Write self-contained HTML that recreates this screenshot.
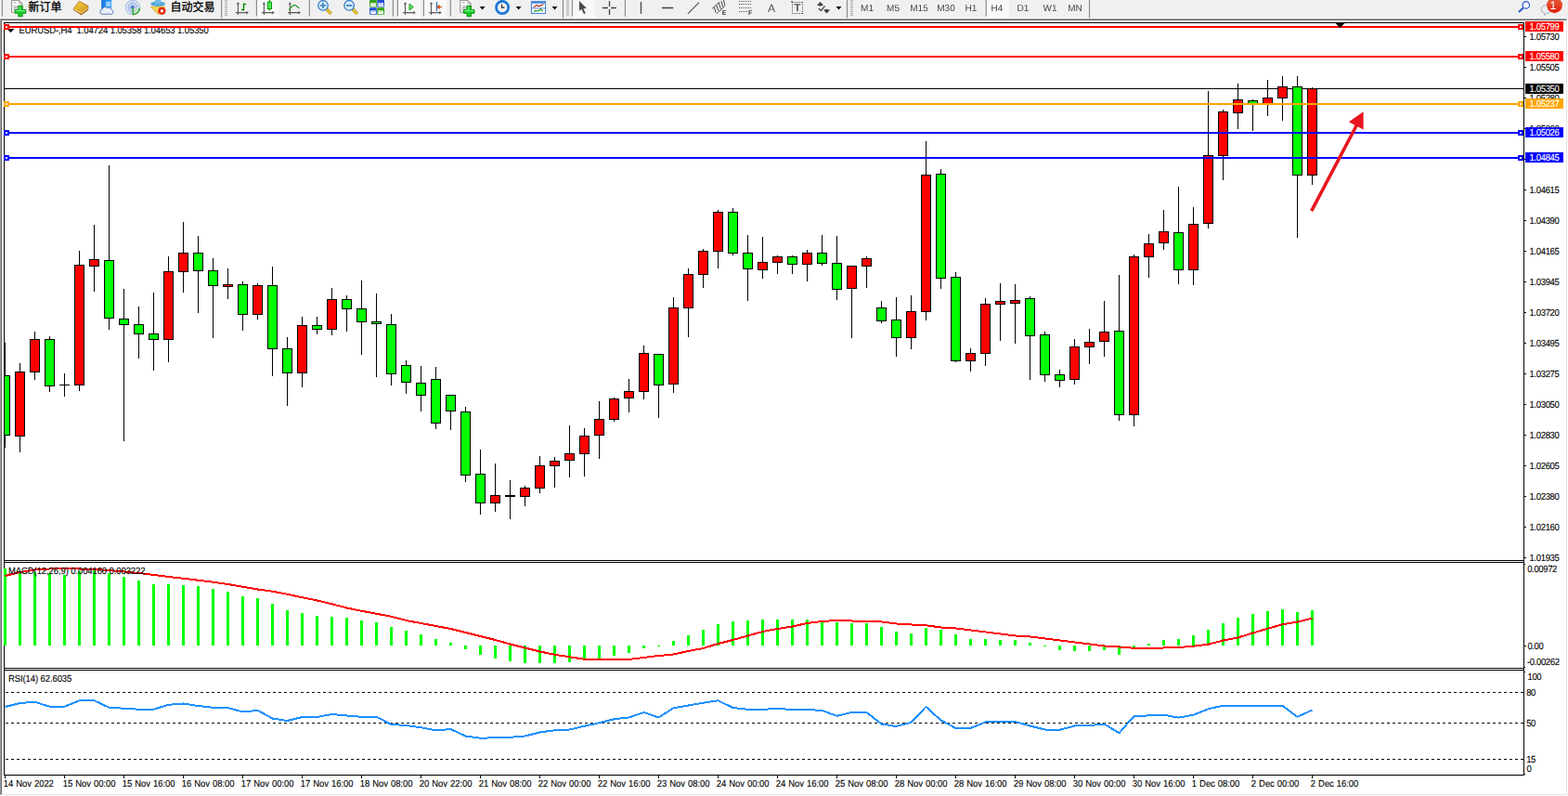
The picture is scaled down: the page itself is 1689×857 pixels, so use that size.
<!DOCTYPE html>
<html><head><meta charset="utf-8"><title>EURUSD-,H4</title>
<style>
html,body{margin:0;padding:0;background:#fff;}
body{width:1689px;height:857px;overflow:hidden;position:relative;font-family:"Liberation Sans",sans-serif;}
svg{position:absolute;left:0;top:0;}
.t{position:absolute;white-space:nowrap;color:#000;font-family:"Liberation Sans",sans-serif;}
.t{text-rendering:geometricPrecision;transform:scaleY(1.09);-webkit-text-stroke:0.1px currentColor;}
.tt{transform:none;will-change:transform;-webkit-text-stroke:0;}
.tag{position:absolute;left:1643px;width:41px;height:11px;}
.ax{letter-spacing:-0.36px;}
.tm{letter-spacing:-0.1px;word-spacing:0.6px;}
.lb{letter-spacing:-0.1px;}
</style></head><body>
<svg width="1689" height="857" viewBox="0 0 1689 857">
<rect x="0" y="0" width="1689" height="857" fill="#fff"/>
<rect x="0" y="0" width="1689" height="19" fill="#f0f0f0"/>
<rect x="0" y="19" width="1688" height="1" fill="#f8f8f8"/>
<rect x="0" y="20" width="1688" height="1" fill="#a0a0a0"/>
<rect x="0" y="20" width="1" height="836" fill="#a0a0a0"/>
<rect x="1" y="21" width="1686" height="1" fill="#696969"/>
<rect x="1" y="21" width="1" height="834" fill="#696969"/>
<rect x="1687" y="21" width="1" height="835" fill="#e3e3e3"/>
<rect x="1" y="855" width="1687" height="1" fill="#e3e3e3"/>
<rect x="1688" y="20" width="1" height="837" fill="#fff"/>
<rect x="0" y="856" width="1689" height="1" fill="#fff"/>
<rect x="4" y="24" width="1638" height="1" fill="#000"/>
<rect x="4" y="24" width="1" height="811" fill="#000"/>
<rect x="1641" y="24" width="1" height="811" fill="#000"/>
<rect x="4" y="603" width="1638" height="1" fill="#000"/>
<rect x="4" y="605" width="1638" height="1" fill="#000"/>
<rect x="4" y="719" width="1638" height="1" fill="#000"/>
<rect x="4" y="721" width="1638" height="1" fill="#000"/>
<rect x="4" y="834" width="1638" height="1" fill="#000"/>
<rect x="1642" y="39" width="2" height="1" fill="#000"/>
<rect x="1642" y="72" width="2" height="1" fill="#000"/>
<rect x="1642" y="105" width="2" height="1" fill="#000"/>
<rect x="1642" y="138" width="2" height="1" fill="#000"/>
<rect x="1642" y="171" width="2" height="1" fill="#000"/>
<rect x="1642" y="204" width="2" height="1" fill="#000"/>
<rect x="1642" y="237" width="2" height="1" fill="#000"/>
<rect x="1642" y="270" width="2" height="1" fill="#000"/>
<rect x="1642" y="303" width="2" height="1" fill="#000"/>
<rect x="1642" y="336" width="2" height="1" fill="#000"/>
<rect x="1642" y="369" width="2" height="1" fill="#000"/>
<rect x="1642" y="402" width="2" height="1" fill="#000"/>
<rect x="1642" y="435" width="2" height="1" fill="#000"/>
<rect x="1642" y="468" width="2" height="1" fill="#000"/>
<rect x="1642" y="501" width="2" height="1" fill="#000"/>
<rect x="1642" y="534" width="2" height="1" fill="#000"/>
<rect x="1642" y="567" width="2" height="1" fill="#000"/>
<rect x="1642" y="600" width="2" height="1" fill="#000"/>
<rect x="1642" y="607" width="1" height="1" fill="#000"/>
<rect x="1642" y="695" width="2" height="1" fill="#000"/>
<rect x="1642" y="718" width="1" height="1" fill="#000"/>
<rect x="1642" y="723" width="1" height="1" fill="#000"/>
<rect x="1642" y="833" width="1" height="1" fill="#000"/>
<clipPath id="cp"><rect x="5" y="25" width="1636" height="578"/></clipPath><g clip-path="url(#cp)">
<rect x="5" y="95" width="1636" height="1" fill="#000"/>
<rect x="5" y="369" width="1" height="113" fill="#000"/>
<rect x="0.5" y="404.5" width="10" height="64" fill="#00ff00" stroke="#000"/>
<rect x="21" y="391" width="1" height="96" fill="#000"/>
<rect x="16.5" y="400.5" width="10" height="69" fill="#ff0000" stroke="#000"/>
<rect x="37" y="357" width="1" height="52" fill="#000"/>
<rect x="32.5" y="365.5" width="10" height="35" fill="#ff0000" stroke="#000"/>
<rect x="53" y="362" width="1" height="60" fill="#000"/>
<rect x="48.5" y="365.5" width="10" height="50" fill="#00ff00" stroke="#000"/>
<rect x="69" y="402" width="1" height="25" fill="#000"/>
<rect x="64" y="414" width="11" height="1" fill="#000"/>
<rect x="85" y="270" width="1" height="151" fill="#000"/>
<rect x="80.5" y="285.5" width="10" height="129" fill="#ff0000" stroke="#000"/>
<rect x="101" y="242" width="1" height="72" fill="#000"/>
<rect x="96.5" y="279.5" width="10" height="7" fill="#ff0000" stroke="#000"/>
<rect x="117" y="178" width="1" height="177" fill="#000"/>
<rect x="112.5" y="280.5" width="10" height="62" fill="#00ff00" stroke="#000"/>
<rect x="133" y="311" width="1" height="164" fill="#000"/>
<rect x="128.5" y="343.5" width="10" height="6" fill="#00ff00" stroke="#000"/>
<rect x="149" y="330" width="1" height="56" fill="#000"/>
<rect x="144.5" y="349.5" width="10" height="10" fill="#00ff00" stroke="#000"/>
<rect x="165" y="315" width="1" height="84" fill="#000"/>
<rect x="160.5" y="359.5" width="10" height="6" fill="#00ff00" stroke="#000"/>
<rect x="181" y="276" width="1" height="114" fill="#000"/>
<rect x="176.5" y="292.5" width="10" height="73" fill="#ff0000" stroke="#000"/>
<rect x="197" y="239" width="1" height="76" fill="#000"/>
<rect x="192.5" y="272.5" width="10" height="20" fill="#ff0000" stroke="#000"/>
<rect x="213" y="254" width="1" height="83" fill="#000"/>
<rect x="208.5" y="272.5" width="10" height="19" fill="#00ff00" stroke="#000"/>
<rect x="229" y="278" width="1" height="86" fill="#000"/>
<rect x="224.5" y="291.5" width="10" height="16" fill="#00ff00" stroke="#000"/>
<rect x="245" y="289" width="1" height="33" fill="#000"/>
<rect x="240.5" y="306.5" width="10" height="2" fill="#ff0000" stroke="#000"/>
<rect x="261" y="303" width="1" height="53" fill="#000"/>
<rect x="256.5" y="306.5" width="10" height="32" fill="#00ff00" stroke="#000"/>
<rect x="277" y="305" width="1" height="39" fill="#000"/>
<rect x="272.5" y="307.5" width="10" height="31" fill="#ff0000" stroke="#000"/>
<rect x="293" y="287" width="1" height="118" fill="#000"/>
<rect x="288.5" y="307.5" width="10" height="68" fill="#00ff00" stroke="#000"/>
<rect x="309" y="363" width="1" height="74" fill="#000"/>
<rect x="304.5" y="375.5" width="10" height="26" fill="#00ff00" stroke="#000"/>
<rect x="325" y="341" width="1" height="76" fill="#000"/>
<rect x="320.5" y="350.5" width="10" height="51" fill="#ff0000" stroke="#000"/>
<rect x="341" y="341" width="1" height="19" fill="#000"/>
<rect x="336.5" y="350.5" width="10" height="4" fill="#00ff00" stroke="#000"/>
<rect x="357" y="310" width="1" height="51" fill="#000"/>
<rect x="352.5" y="322.5" width="10" height="32" fill="#ff0000" stroke="#000"/>
<rect x="373" y="318" width="1" height="39" fill="#000"/>
<rect x="368.5" y="322.5" width="10" height="10" fill="#00ff00" stroke="#000"/>
<rect x="389" y="302" width="1" height="80" fill="#000"/>
<rect x="384.5" y="332.5" width="10" height="14" fill="#00ff00" stroke="#000"/>
<rect x="405" y="316" width="1" height="90" fill="#000"/>
<rect x="400.5" y="346.5" width="10" height="2" fill="#00ff00" stroke="#000"/>
<rect x="421" y="338" width="1" height="77" fill="#000"/>
<rect x="416.5" y="349.5" width="10" height="53" fill="#00ff00" stroke="#000"/>
<rect x="437" y="388" width="1" height="36" fill="#000"/>
<rect x="432.5" y="393.5" width="10" height="18" fill="#00ff00" stroke="#000"/>
<rect x="453" y="394" width="1" height="49" fill="#000"/>
<rect x="448.5" y="412.5" width="10" height="13" fill="#00ff00" stroke="#000"/>
<rect x="469" y="395" width="1" height="67" fill="#000"/>
<rect x="464.5" y="408.5" width="10" height="47" fill="#00ff00" stroke="#000"/>
<rect x="485" y="425" width="1" height="38" fill="#000"/>
<rect x="480.5" y="425.5" width="10" height="17" fill="#00ff00" stroke="#000"/>
<rect x="501" y="438" width="1" height="81" fill="#000"/>
<rect x="496.5" y="443.5" width="10" height="68" fill="#00ff00" stroke="#000"/>
<rect x="517" y="484" width="1" height="70" fill="#000"/>
<rect x="512.5" y="510.5" width="10" height="31" fill="#00ff00" stroke="#000"/>
<rect x="533" y="499" width="1" height="52" fill="#000"/>
<rect x="528.5" y="533.5" width="10" height="8" fill="#ff0000" stroke="#000"/>
<rect x="549" y="517" width="1" height="42" fill="#000"/>
<rect x="544" y="533" width="11" height="2" fill="#000"/>
<rect x="565" y="523" width="1" height="22" fill="#000"/>
<rect x="560.5" y="525.5" width="10" height="9" fill="#ff0000" stroke="#000"/>
<rect x="581" y="491" width="1" height="40" fill="#000"/>
<rect x="576.5" y="501.5" width="10" height="24" fill="#ff0000" stroke="#000"/>
<rect x="597" y="492" width="1" height="33" fill="#000"/>
<rect x="592.5" y="496.5" width="10" height="5" fill="#ff0000" stroke="#000"/>
<rect x="613" y="458" width="1" height="56" fill="#000"/>
<rect x="608.5" y="488.5" width="10" height="7" fill="#ff0000" stroke="#000"/>
<rect x="629" y="461" width="1" height="52" fill="#000"/>
<rect x="624.5" y="469.5" width="10" height="19" fill="#ff0000" stroke="#000"/>
<rect x="645" y="432" width="1" height="62" fill="#000"/>
<rect x="640.5" y="451.5" width="10" height="17" fill="#ff0000" stroke="#000"/>
<rect x="661" y="428" width="1" height="26" fill="#000"/>
<rect x="656.5" y="429.5" width="10" height="22" fill="#ff0000" stroke="#000"/>
<rect x="677" y="408" width="1" height="36" fill="#000"/>
<rect x="672.5" y="421.5" width="10" height="7" fill="#ff0000" stroke="#000"/>
<rect x="693" y="372" width="1" height="58" fill="#000"/>
<rect x="688.5" y="380.5" width="10" height="41" fill="#ff0000" stroke="#000"/>
<rect x="709" y="381" width="1" height="69" fill="#000"/>
<rect x="704.5" y="381.5" width="10" height="33" fill="#00ff00" stroke="#000"/>
<rect x="725" y="320" width="1" height="103" fill="#000"/>
<rect x="720.5" y="331.5" width="10" height="82" fill="#ff0000" stroke="#000"/>
<rect x="741" y="289" width="1" height="74" fill="#000"/>
<rect x="736.5" y="295.5" width="10" height="36" fill="#ff0000" stroke="#000"/>
<rect x="757" y="268" width="1" height="42" fill="#000"/>
<rect x="752.5" y="270.5" width="10" height="25" fill="#ff0000" stroke="#000"/>
<rect x="773" y="226" width="1" height="63" fill="#000"/>
<rect x="768.5" y="228.5" width="10" height="42" fill="#ff0000" stroke="#000"/>
<rect x="789" y="224" width="1" height="51" fill="#000"/>
<rect x="784.5" y="228.5" width="10" height="44" fill="#00ff00" stroke="#000"/>
<rect x="805" y="253" width="1" height="71" fill="#000"/>
<rect x="800.5" y="272.5" width="10" height="17" fill="#00ff00" stroke="#000"/>
<rect x="821" y="255" width="1" height="45" fill="#000"/>
<rect x="816.5" y="282.5" width="10" height="8" fill="#ff0000" stroke="#000"/>
<rect x="837" y="275" width="1" height="20" fill="#000"/>
<rect x="832.5" y="276.5" width="10" height="6" fill="#ff0000" stroke="#000"/>
<rect x="853" y="275" width="1" height="20" fill="#000"/>
<rect x="848.5" y="276.5" width="10" height="8" fill="#00ff00" stroke="#000"/>
<rect x="869" y="269" width="1" height="34" fill="#000"/>
<rect x="864.5" y="272.5" width="10" height="12" fill="#ff0000" stroke="#000"/>
<rect x="885" y="253" width="1" height="33" fill="#000"/>
<rect x="880.5" y="272.5" width="10" height="11" fill="#00ff00" stroke="#000"/>
<rect x="901" y="254" width="1" height="69" fill="#000"/>
<rect x="896.5" y="283.5" width="10" height="28" fill="#00ff00" stroke="#000"/>
<rect x="917" y="286" width="1" height="78" fill="#000"/>
<rect x="912.5" y="286.5" width="10" height="24" fill="#ff0000" stroke="#000"/>
<rect x="933" y="276" width="1" height="34" fill="#000"/>
<rect x="928.5" y="278.5" width="10" height="8" fill="#ff0000" stroke="#000"/>
<rect x="949" y="324" width="1" height="24" fill="#000"/>
<rect x="944.5" y="331.5" width="10" height="14" fill="#00ff00" stroke="#000"/>
<rect x="965" y="320" width="1" height="64" fill="#000"/>
<rect x="960.5" y="344.5" width="10" height="19" fill="#00ff00" stroke="#000"/>
<rect x="981" y="318" width="1" height="58" fill="#000"/>
<rect x="976.5" y="335.5" width="10" height="28" fill="#ff0000" stroke="#000"/>
<rect x="997" y="152" width="1" height="193" fill="#000"/>
<rect x="992.5" y="188.5" width="10" height="147" fill="#ff0000" stroke="#000"/>
<rect x="1013" y="182" width="1" height="129" fill="#000"/>
<rect x="1008.5" y="187.5" width="10" height="112" fill="#00ff00" stroke="#000"/>
<rect x="1029" y="293" width="1" height="97" fill="#000"/>
<rect x="1024.5" y="298.5" width="10" height="90" fill="#00ff00" stroke="#000"/>
<rect x="1045" y="375" width="1" height="25" fill="#000"/>
<rect x="1040.5" y="380.5" width="10" height="8" fill="#ff0000" stroke="#000"/>
<rect x="1061" y="321" width="1" height="73" fill="#000"/>
<rect x="1056.5" y="327.5" width="10" height="53" fill="#ff0000" stroke="#000"/>
<rect x="1077" y="305" width="1" height="62" fill="#000"/>
<rect x="1072.5" y="324.5" width="10" height="3" fill="#ff0000" stroke="#000"/>
<rect x="1093" y="306" width="1" height="64" fill="#000"/>
<rect x="1088.5" y="323.5" width="10" height="3" fill="#ff0000" stroke="#000"/>
<rect x="1109" y="319" width="1" height="90" fill="#000"/>
<rect x="1104.5" y="321.5" width="10" height="40" fill="#00ff00" stroke="#000"/>
<rect x="1125" y="357" width="1" height="54" fill="#000"/>
<rect x="1120.5" y="360.5" width="10" height="43" fill="#00ff00" stroke="#000"/>
<rect x="1141" y="398" width="1" height="19" fill="#000"/>
<rect x="1136.5" y="403.5" width="10" height="6" fill="#00ff00" stroke="#000"/>
<rect x="1157" y="365" width="1" height="49" fill="#000"/>
<rect x="1152.5" y="373.5" width="10" height="35" fill="#ff0000" stroke="#000"/>
<rect x="1173" y="354" width="1" height="38" fill="#000"/>
<rect x="1168.5" y="368.5" width="10" height="5" fill="#ff0000" stroke="#000"/>
<rect x="1189" y="324" width="1" height="60" fill="#000"/>
<rect x="1184.5" y="357.5" width="10" height="10" fill="#ff0000" stroke="#000"/>
<rect x="1205" y="296" width="1" height="157" fill="#000"/>
<rect x="1200.5" y="356.5" width="10" height="90" fill="#00ff00" stroke="#000"/>
<rect x="1221" y="274" width="1" height="185" fill="#000"/>
<rect x="1216.5" y="276.5" width="10" height="170" fill="#ff0000" stroke="#000"/>
<rect x="1237" y="252" width="1" height="47" fill="#000"/>
<rect x="1232.5" y="262.5" width="10" height="14" fill="#ff0000" stroke="#000"/>
<rect x="1253" y="226" width="1" height="43" fill="#000"/>
<rect x="1248.5" y="249.5" width="10" height="12" fill="#ff0000" stroke="#000"/>
<rect x="1269" y="201" width="1" height="105" fill="#000"/>
<rect x="1264.5" y="250.5" width="10" height="40" fill="#00ff00" stroke="#000"/>
<rect x="1285" y="223" width="1" height="84" fill="#000"/>
<rect x="1280.5" y="241.5" width="10" height="49" fill="#ff0000" stroke="#000"/>
<rect x="1301" y="98" width="1" height="148" fill="#000"/>
<rect x="1296.5" y="167.5" width="10" height="73" fill="#ff0000" stroke="#000"/>
<rect x="1317" y="118" width="1" height="76" fill="#000"/>
<rect x="1312.5" y="120.5" width="10" height="47" fill="#ff0000" stroke="#000"/>
<rect x="1333" y="90" width="1" height="49" fill="#000"/>
<rect x="1328.5" y="107.5" width="10" height="14" fill="#ff0000" stroke="#000"/>
<rect x="1349" y="107" width="1" height="34" fill="#000"/>
<rect x="1344.5" y="108.5" width="10" height="3" fill="#00ff00" stroke="#000"/>
<rect x="1365" y="86" width="1" height="39" fill="#000"/>
<rect x="1360.5" y="105.5" width="10" height="6" fill="#ff0000" stroke="#000"/>
<rect x="1381" y="82" width="1" height="48" fill="#000"/>
<rect x="1376.5" y="93.5" width="10" height="12" fill="#ff0000" stroke="#000"/>
<rect x="1397" y="82" width="1" height="174" fill="#000"/>
<rect x="1392.5" y="93.5" width="10" height="95" fill="#00ff00" stroke="#000"/>
<rect x="1413" y="94" width="1" height="105" fill="#000"/>
<rect x="1408.5" y="95.5" width="10" height="93" fill="#ff0000" stroke="#000"/>
</g>
<rect x="8" y="31" width="7" height="1" fill="#000"/>
<rect x="9" y="32" width="5" height="1" fill="#000"/>
<rect x="10" y="33" width="3" height="1" fill="#000"/>
<rect x="11" y="34" width="1" height="1" fill="#000"/>
<rect x="5" y="28" width="1636" height="2" fill="#ff0000"/>
<rect x="5" y="27.0" width="4" height="4" fill="#fff" stroke="#ff0000" stroke-width="2"/>
<rect x="1636" y="27.0" width="4" height="4" fill="#fff" stroke="#ff0000" stroke-width="2"/>
<rect x="5" y="60" width="1636" height="2" fill="#ff0000"/>
<rect x="5" y="59.0" width="4" height="4" fill="#fff" stroke="#ff0000" stroke-width="2"/>
<rect x="1636" y="59.0" width="4" height="4" fill="#fff" stroke="#ff0000" stroke-width="2"/>
<rect x="5" y="111" width="1636" height="2" fill="#ffa500"/>
<rect x="5" y="110.0" width="4" height="4" fill="#fff" stroke="#ffa500" stroke-width="2"/>
<rect x="1636" y="110.0" width="4" height="4" fill="#fff" stroke="#ffa500" stroke-width="2"/>
<rect x="5" y="142" width="1636" height="2" fill="#0000ff"/>
<rect x="5" y="141.0" width="4" height="4" fill="#fff" stroke="#0000ff" stroke-width="2"/>
<rect x="1636" y="141.0" width="4" height="4" fill="#fff" stroke="#0000ff" stroke-width="2"/>
<rect x="5" y="169" width="1636" height="2" fill="#0000ff"/>
<rect x="5" y="168.0" width="4" height="4" fill="#fff" stroke="#0000ff" stroke-width="2"/>
<rect x="1636" y="168.0" width="4" height="4" fill="#fff" stroke="#0000ff" stroke-width="2"/>
<rect x="1439" y="25" width="9" height="1" fill="#000"/>
<rect x="1440" y="26" width="7" height="1" fill="#000"/>
<rect x="1441" y="27" width="5" height="1" fill="#000"/>
<rect x="1442" y="28" width="3" height="1" fill="#000"/>
<rect x="1443" y="29" width="1" height="1" fill="#000"/>
<path d="M1412.7 227.2L1461.5 134.5" stroke="#e8161e" stroke-width="3.6" fill="none"/>
<path d="M1468.6 120.3L1452.8 131.3L1468.6 139.5z" fill="#e8161e"/>
<rect x="4" y="612" width="3" height="83" fill="#00ff00"/>
<rect x="20" y="615" width="3" height="80" fill="#00ff00"/>
<rect x="36" y="616" width="3" height="79" fill="#00ff00"/>
<rect x="52" y="617" width="3" height="78" fill="#00ff00"/>
<rect x="68" y="619" width="3" height="76" fill="#00ff00"/>
<rect x="84" y="615" width="3" height="80" fill="#00ff00"/>
<rect x="100" y="614" width="3" height="81" fill="#00ff00"/>
<rect x="116" y="617" width="3" height="78" fill="#00ff00"/>
<rect x="132" y="621" width="3" height="74" fill="#00ff00"/>
<rect x="148" y="625" width="3" height="70" fill="#00ff00"/>
<rect x="164" y="629" width="3" height="66" fill="#00ff00"/>
<rect x="180" y="629" width="3" height="66" fill="#00ff00"/>
<rect x="196" y="630" width="3" height="65" fill="#00ff00"/>
<rect x="212" y="631" width="3" height="64" fill="#00ff00"/>
<rect x="228" y="634" width="3" height="61" fill="#00ff00"/>
<rect x="244" y="637" width="3" height="58" fill="#00ff00"/>
<rect x="260" y="642" width="3" height="53" fill="#00ff00"/>
<rect x="276" y="644" width="3" height="51" fill="#00ff00"/>
<rect x="292" y="650" width="3" height="45" fill="#00ff00"/>
<rect x="308" y="657" width="3" height="38" fill="#00ff00"/>
<rect x="324" y="660" width="3" height="35" fill="#00ff00"/>
<rect x="340" y="663" width="3" height="32" fill="#00ff00"/>
<rect x="356" y="664" width="3" height="31" fill="#00ff00"/>
<rect x="372" y="665" width="3" height="30" fill="#00ff00"/>
<rect x="388" y="668" width="3" height="27" fill="#00ff00"/>
<rect x="404" y="670" width="3" height="25" fill="#00ff00"/>
<rect x="420" y="675" width="3" height="20" fill="#00ff00"/>
<rect x="436" y="679" width="3" height="16" fill="#00ff00"/>
<rect x="452" y="683" width="3" height="12" fill="#00ff00"/>
<rect x="468" y="688" width="3" height="7" fill="#00ff00"/>
<rect x="484" y="692" width="3" height="3" fill="#00ff00"/>
<rect x="500" y="695" width="3" height="4" fill="#00ff00"/>
<rect x="516" y="695" width="3" height="10" fill="#00ff00"/>
<rect x="532" y="695" width="3" height="14" fill="#00ff00"/>
<rect x="548" y="695" width="3" height="17" fill="#00ff00"/>
<rect x="564" y="695" width="3" height="19" fill="#00ff00"/>
<rect x="580" y="695" width="3" height="19" fill="#00ff00"/>
<rect x="596" y="695" width="3" height="19" fill="#00ff00"/>
<rect x="612" y="695" width="3" height="18" fill="#00ff00"/>
<rect x="628" y="695" width="3" height="16" fill="#00ff00"/>
<rect x="644" y="695" width="3" height="14" fill="#00ff00"/>
<rect x="660" y="695" width="3" height="11" fill="#00ff00"/>
<rect x="676" y="695" width="3" height="8" fill="#00ff00"/>
<rect x="692" y="695" width="3" height="3" fill="#00ff00"/>
<rect x="708" y="695" width="3" height="1" fill="#00ff00"/>
<rect x="724" y="690" width="3" height="5" fill="#00ff00"/>
<rect x="740" y="684" width="3" height="11" fill="#00ff00"/>
<rect x="756" y="678" width="3" height="17" fill="#00ff00"/>
<rect x="772" y="672" width="3" height="23" fill="#00ff00"/>
<rect x="788" y="669" width="3" height="26" fill="#00ff00"/>
<rect x="804" y="668" width="3" height="27" fill="#00ff00"/>
<rect x="820" y="667" width="3" height="28" fill="#00ff00"/>
<rect x="836" y="667" width="3" height="28" fill="#00ff00"/>
<rect x="852" y="667" width="3" height="28" fill="#00ff00"/>
<rect x="868" y="667" width="3" height="28" fill="#00ff00"/>
<rect x="884" y="668" width="3" height="27" fill="#00ff00"/>
<rect x="900" y="670" width="3" height="25" fill="#00ff00"/>
<rect x="916" y="671" width="3" height="24" fill="#00ff00"/>
<rect x="932" y="671" width="3" height="24" fill="#00ff00"/>
<rect x="948" y="675" width="3" height="20" fill="#00ff00"/>
<rect x="964" y="680" width="3" height="15" fill="#00ff00"/>
<rect x="980" y="682" width="3" height="13" fill="#00ff00"/>
<rect x="996" y="676" width="3" height="19" fill="#00ff00"/>
<rect x="1012" y="678" width="3" height="17" fill="#00ff00"/>
<rect x="1028" y="683" width="3" height="12" fill="#00ff00"/>
<rect x="1044" y="688" width="3" height="7" fill="#00ff00"/>
<rect x="1060" y="688" width="3" height="7" fill="#00ff00"/>
<rect x="1076" y="689" width="3" height="6" fill="#00ff00"/>
<rect x="1092" y="689" width="3" height="6" fill="#00ff00"/>
<rect x="1108" y="692" width="3" height="3" fill="#00ff00"/>
<rect x="1124" y="695" width="3" height="1" fill="#00ff00"/>
<rect x="1140" y="695" width="3" height="5" fill="#00ff00"/>
<rect x="1156" y="695" width="3" height="6" fill="#00ff00"/>
<rect x="1172" y="695" width="3" height="6" fill="#00ff00"/>
<rect x="1188" y="695" width="3" height="5" fill="#00ff00"/>
<rect x="1204" y="695" width="3" height="10" fill="#00ff00"/>
<rect x="1220" y="695" width="3" height="3" fill="#00ff00"/>
<rect x="1236" y="693" width="3" height="2" fill="#00ff00"/>
<rect x="1252" y="689" width="3" height="6" fill="#00ff00"/>
<rect x="1268" y="688" width="3" height="7" fill="#00ff00"/>
<rect x="1284" y="684" width="3" height="11" fill="#00ff00"/>
<rect x="1300" y="678" width="3" height="17" fill="#00ff00"/>
<rect x="1316" y="671" width="3" height="24" fill="#00ff00"/>
<rect x="1332" y="665" width="3" height="30" fill="#00ff00"/>
<rect x="1348" y="661" width="3" height="34" fill="#00ff00"/>
<rect x="1364" y="658" width="3" height="37" fill="#00ff00"/>
<rect x="1380" y="656" width="3" height="39" fill="#00ff00"/>
<rect x="1396" y="659" width="3" height="36" fill="#00ff00"/>
<rect x="1412" y="657" width="3" height="38" fill="#00ff00"/>
<polyline points="5.5,620 21.5,616 37.5,613.5 53.5,612.5 69.5,612.25 85.5,612.5 101.5,613 117.5,614 133.5,615.5 149.5,617 165.5,619 181.5,621 197.5,622.75 213.5,624.75 229.5,626.75 245.5,629 261.5,631.75 277.5,634.5 293.5,636.75 309.5,639.75 325.5,643.25 341.5,646.5 357.5,650.25 373.5,654.5 389.5,657.75 405.5,660.75 421.5,663.75 437.5,668 453.5,671 469.5,674 485.5,677 501.5,681 517.5,685 533.5,689 549.5,693.5 565.5,697.5 581.5,701.5 597.5,704.75 613.5,707.25 629.5,709.75 645.5,710 661.5,710 677.5,710 693.5,708 709.5,706 725.5,704.5 741.5,701 757.5,698 773.5,693 789.5,689 805.5,684.5 821.5,680 837.5,677 853.5,674.5 869.5,671 885.5,669 901.5,668 917.5,668.5 933.5,669 949.5,669.5 965.5,671.5 981.5,672.5 997.5,673.25 1013.5,675.5 1029.5,676.5 1045.5,678.5 1061.5,680.5 1077.5,682.5 1093.5,684.5 1109.5,685.5 1125.5,687.5 1141.5,689.5 1157.5,691.5 1173.5,693.5 1189.5,695.5 1205.5,696.5 1221.5,697.75 1237.5,698 1253.5,697.5 1269.5,697 1285.5,695.75 1301.5,693.75 1317.5,689.5 1333.5,686.5 1349.5,681.5 1365.5,676.75 1381.5,672.25 1397.5,669.5 1413.5,665.75" fill="none" stroke="#ff0000" stroke-width="2" stroke-linejoin="round" shape-rendering="crispEdges" clip-path="url(#cpm)"/>
<clipPath id="cpm"><rect x="5" y="606" width="1636" height="228"/></clipPath>
<path d="M6 745.5H1641" stroke="#000" stroke-width="1" stroke-dasharray="3 3" fill="none" shape-rendering="crispEdges"/>
<path d="M6 778.5H1641" stroke="#000" stroke-width="1" stroke-dasharray="3 3" fill="none" shape-rendering="crispEdges"/>
<path d="M6 817.5H1641" stroke="#000" stroke-width="1" stroke-dasharray="3 3" fill="none" shape-rendering="crispEdges"/>
<polyline points="5.5,761 21.5,757 37.5,755.75 53.5,760.75 69.5,760.75 85.5,754.25 101.5,754.25 117.5,761.75 133.5,762.75 149.5,763.75 165.5,763.75 181.5,758.75 197.5,757.5 213.5,760 229.5,761.75 245.5,762 261.5,766.5 277.5,764.75 293.5,773.5 309.5,776 325.5,772 341.5,772 357.5,769 373.5,770.5 389.5,771.75 405.5,771.75 421.5,780 437.5,781 453.5,783.25 469.5,786.5 485.5,785 501.5,792.5 517.5,794.75 533.5,794.25 549.5,793.75 565.5,792.5 581.5,788.5 597.5,786.25 613.5,785.5 629.5,781.75 645.5,778.25 661.5,774.25 677.5,772.5 693.5,767 709.5,772.5 725.5,762.25 741.5,759.5 757.5,756.75 773.5,754.25 789.5,762 805.5,763.75 821.5,763.75 837.5,763 853.5,764 869.5,764 885.5,765 901.5,770.75 917.5,767 933.5,767 949.5,779.5 965.5,782 981.5,777.75 997.5,761 1013.5,775.5 1029.5,784 1045.5,784 1061.5,777.5 1077.5,777 1093.5,777 1109.5,781.5 1125.5,785.5 1141.5,785.75 1157.5,781.5 1173.5,781 1189.5,779.5 1205.5,789.25 1221.5,771 1237.5,770.4 1253.5,769.75 1269.5,772.6 1285.5,769.75 1301.5,763.25 1317.5,759.75 1333.5,759.75 1349.5,759.75 1365.5,759.75 1381.5,759.75 1397.5,771.75 1413.5,764.5" fill="none" stroke="#1e90ff" stroke-width="2" stroke-linejoin="round" shape-rendering="crispEdges" clip-path="url(#cpm)"/>
<rect x="5" y="835" width="1" height="3" fill="#000"/>
<rect x="69" y="835" width="1" height="3" fill="#000"/>
<rect x="133" y="835" width="1" height="3" fill="#000"/>
<rect x="197" y="835" width="1" height="3" fill="#000"/>
<rect x="261" y="835" width="1" height="3" fill="#000"/>
<rect x="325" y="835" width="1" height="3" fill="#000"/>
<rect x="389" y="835" width="1" height="3" fill="#000"/>
<rect x="453" y="835" width="1" height="3" fill="#000"/>
<rect x="517" y="835" width="1" height="3" fill="#000"/>
<rect x="581" y="835" width="1" height="3" fill="#000"/>
<rect x="645" y="835" width="1" height="3" fill="#000"/>
<rect x="709" y="835" width="1" height="3" fill="#000"/>
<rect x="773" y="835" width="1" height="3" fill="#000"/>
<rect x="837" y="835" width="1" height="3" fill="#000"/>
<rect x="901" y="835" width="1" height="3" fill="#000"/>
<rect x="965" y="835" width="1" height="3" fill="#000"/>
<rect x="1029" y="835" width="1" height="3" fill="#000"/>
<rect x="1093" y="835" width="1" height="3" fill="#000"/>
<rect x="1157" y="835" width="1" height="3" fill="#000"/>
<rect x="1221" y="835" width="1" height="3" fill="#000"/>
<rect x="1285" y="835" width="1" height="3" fill="#000"/>
<rect x="1349" y="835" width="1" height="3" fill="#000"/>
<rect x="1413" y="835" width="1" height="3" fill="#000"/>
<rect x="1.8" y="0" width="1.2" height="17.6" fill="#8e8e8e"/>
<path d="M12.6 0.4h8l3.2 3.2v9.6h-11.2z" fill="#fdfdfd" stroke="#8a8a8a" stroke-width="1"/>
<path d="M20.6 0.4v3.2h3.2" fill="none" stroke="#8a8a8a" stroke-width="0.8"/>
<path d="M14.5 2.8h3M14.5 6.8h6.5M14.5 8.6h6.5M14.5 10.4h3" stroke="#9a9a9a" stroke-width="1" fill="none"/>
<path d="M16.2 10.4h3.6v-4.2h4.4v4.2h3.6v3.9h-3.6v3.5h-4.4v-3.5h-3.6z" fill="#18cc2a" stroke="#0a8a14" stroke-width="0.9"/>
<path d="M17.2 11.6h9.6M21.3 7.4v5" stroke="#7dff8a" stroke-width="1.1" fill="none" opacity="0.85"/>
<text x="30.6" y="11.5" font-size="12" fill="#000" stroke="#000" stroke-width="0.3" font-family="&quot;Liberation Sans&quot;, &quot;Noto Sans CJK SC&quot;, sans-serif">新订单</text>
<linearGradient id="gy" x1="0" y1="0" x2="1" y2="1"><stop offset="0" stop-color="#f7d648"/><stop offset="1" stop-color="#c98a14"/></linearGradient>
<path d="M79 9.8L85.3 1.2L95 6.5L94.6 10.8L87.6 15.8z" fill="url(#gy)" stroke="#a8700f" stroke-width="0.8" stroke-linejoin="round"/><path d="M79.4 10.6L87.6 15.4L94.4 10.4" fill="none" stroke="#9c6410" stroke-width="1.1"/>
<path d="M80.2 10.4L87.6 14.2L94.2 9" fill="none" stroke="#f6e3a0" stroke-width="0.9"/>
<path d="M109.3 0h10.8v9.6h-10.8z" fill="#1f8cec"/><path d="M113.2 1h6.9v8.6h-6.9z" fill="#56b0ff"/><path d="M109.3 0h3.9v9.6h-3.9z" fill="#1a7ee0"/><path d="M114.6 3.2h4.2M114.6 5.4h4.2" stroke="#e8f4ff" stroke-width="1"/>
<path d="M109.8 15.3a2.6 2.6 0 0 1 0.2-5.1a3.3 3.3 0 0 1 5.6-1.6a3 3 0 0 1 4.4 1.9a2.5 2.5 0 0 1 0.4 4.8z" fill="#e9eef8" stroke="#5674b2" stroke-width="0.9"/><path d="M109.4 14.4h11.6" stroke="#c8d4ea" stroke-width="1"/>
<circle cx="142.9" cy="8" r="7.6" fill="#e4ecf4" stroke="#a9bde8" stroke-width="1.1"/><circle cx="142.9" cy="8" r="4.9" fill="none" stroke="#8fa8e4" stroke-width="1.1"/><circle cx="142.9" cy="8" r="2.7" fill="none" stroke="#7f9ce2" stroke-width="0.9"/><circle cx="142.9" cy="7.8" r="1.6" fill="#2a5ed8"/>
<path d="M143.3 8.6V15.6A7.6 7.6 0 0 0 150.5 8.6" fill="#cfe8c8" fill-opacity="0.6" stroke="#2ea82e" stroke-width="1.5"/>
<path d="M162.2 7.1h15.4l-7.1 8.7z" fill="#f3d64e" stroke="#d0a820" stroke-width="0.7"/>
<ellipse cx="170.1" cy="4.2" rx="7.9" ry="2.7" fill="#4fa6d8"/><ellipse cx="170.2" cy="1.9" rx="3.4" ry="2.8" fill="#6cbce6"/>
<circle cx="174.4" cy="11.8" r="4.1" fill="#e22c12"/><rect x="173" y="10.4" width="2.8" height="2.8" fill="#fff"/>
<text x="183.6" y="11.5" font-size="12" fill="#000" stroke="#000" stroke-width="0.3" font-family="&quot;Liberation Sans&quot;, &quot;Noto Sans CJK SC&quot;, sans-serif">自动交易</text>
<rect x="238" y="0" width="1.2" height="19.4" fill="#8e8e8e"/>
<rect x="242.1" y="0.1" width="2.8" height="1" fill="#a6a6a6"/>
<rect x="242.1" y="2.1" width="2.8" height="1" fill="#a6a6a6"/>
<rect x="242.1" y="4.1" width="2.8" height="1" fill="#a6a6a6"/>
<rect x="242.1" y="6.1" width="2.8" height="1" fill="#a6a6a6"/>
<rect x="242.1" y="8.1" width="2.8" height="1" fill="#a6a6a6"/>
<rect x="242.1" y="10.1" width="2.8" height="1" fill="#a6a6a6"/>
<rect x="242.1" y="12.1" width="2.8" height="1" fill="#a6a6a6"/>
<rect x="242.1" y="14.1" width="2.8" height="1" fill="#a6a6a6"/>
<rect x="242.1" y="16.1" width="2.8" height="1" fill="#a6a6a6"/>
<path d="M256.4 3V16M253.9 13.6H266.9" stroke="#5c5c5c" stroke-width="1.15" fill="none"/>
<path d="M254.6 4.4L256.4 2.2L258.2 4.4zM265.5 11.8L267.9 13.6L265.5 15.4z" fill="#5c5c5c"/>
<path d="M262.5 3.4V11.5M262.5 4.5h2.6M260.1 10.5h2.4" stroke="#008c00" stroke-width="1.4" fill="none"/>
<rect x="275.8" y="0" width="1.2" height="17.6" fill="#8e8e8e"/>
<rect x="277.2" y="0" width="23.6" height="17.7" fill="#f8f8f8"/><rect x="276.2" y="17.7" width="25.6" height="1.6" fill="#fdfdfd"/>
<path d="M284.4 3V16M282.1 13.6H294.7" stroke="#5c5c5c" stroke-width="1.15" fill="none"/>
<path d="M282.6 4.4L284.4 2.2L286.2 4.4zM293.3 11.8L295.7 13.6L293.3 15.4z" fill="#5c5c5c"/>
<path d="M290.4 0V11.6" stroke="#009a00" stroke-width="1.2"/><rect x="288.3" y="2.3" width="4.2" height="7.2" fill="#4ee85e" stroke="#00a000" stroke-width="1"/>
<path d="M312.4 3V16M310.1 13.6H322.8" stroke="#5c5c5c" stroke-width="1.15" fill="none"/>
<path d="M310.6 4.4L312.4 2.2L314.2 4.4zM321.4 11.8L323.8 13.6L321.4 15.4z" fill="#5c5c5c"/>
<path d="M311.1 10.7C313.5 8.8 315 5.2 317.3 5.3C319.2 5.4 320.4 8 322.6 8.9" stroke="#279a27" stroke-width="1.3" fill="none"/>
<rect x="332.8" y="0" width="1.2" height="17.6" fill="#8e8e8e"/>
<path d="M351.7 9.7L356.6 14.9" stroke="#b08412" stroke-width="3.4" stroke-linecap="butt"/><path d="M351.9 9.9L356.4 14.7" stroke="#edcb32" stroke-width="2"/>
<circle cx="348" cy="5.9" r="5.3" fill="#d6efff" stroke="#3a7cc8" stroke-width="1.3"/>
<path d="M344.8 5.9h6.4M348 2.7v6.4" stroke="#4a8cba" stroke-width="1.9" fill="none"/>
<path d="M379.8 9.7L384.7 14.9" stroke="#b08412" stroke-width="3.4" stroke-linecap="butt"/><path d="M380 9.9L384.5 14.7" stroke="#edcb32" stroke-width="2"/>
<circle cx="376.1" cy="5.9" r="5.3" fill="#d6efff" stroke="#3a7cc8" stroke-width="1.3"/>
<path d="M372.9 5.9h6.4" stroke="#4a8cba" stroke-width="1.9" fill="none"/>
<rect x="398.1" y="0" width="7.7" height="7.5" fill="#34a414"/><rect x="399.2" y="3.2" width="5.6" height="3.6" fill="#fff"/><rect x="400.3" y="4.2" width="3.4" height="0.9" fill="#9cd88c"/>
<rect x="406.3" y="0" width="7.7" height="7.5" fill="#2452d4"/><rect x="407.4" y="3.2" width="5.6" height="3.6" fill="#fff"/><rect x="408.5" y="4.2" width="3.4" height="0.9" fill="#8aa4ee"/>
<rect x="398.1" y="8.2" width="7.7" height="7.5" fill="#2452d4"/><rect x="399.2" y="11.4" width="5.6" height="3.6" fill="#fff"/><rect x="400.3" y="12.4" width="3.4" height="0.9" fill="#8aa4ee"/>
<rect x="406.3" y="8.2" width="7.7" height="7.5" fill="#34a414"/><rect x="407.4" y="11.4" width="5.6" height="3.6" fill="#fff"/><rect x="408.5" y="12.4" width="3.4" height="0.9" fill="#9cd88c"/>
<rect x="422.8" y="0" width="1.2" height="17.6" fill="#8e8e8e"/>
<rect x="427.8" y="0" width="1.2" height="17.6" fill="#8e8e8e"/>
<rect x="429.2" y="0" width="23.8" height="17.7" fill="#f8f8f8"/><rect x="428.2" y="17.7" width="25.8" height="1.6" fill="#fdfdfd"/>
<path d="M436.5 3V16M434.1 13.6H446.7" stroke="#5c5c5c" stroke-width="1.15" fill="none"/>
<path d="M434.7 4.4L436.5 2.2L438.3 4.4zM445.3 11.8L447.7 13.6L445.3 15.4z" fill="#5c5c5c"/>
<path d="M441 4.1V11L445.3 7.5z" fill="#6ee46e" stroke="#00a000" stroke-width="0.9"/>
<rect x="455.8" y="0" width="1.2" height="17.6" fill="#8e8e8e"/>
<rect x="457" y="0" width="24" height="17.7" fill="#f8f8f8"/><rect x="456" y="17.7" width="26" height="1.6" fill="#fdfdfd"/>
<path d="M464.5 3V16M462.2 13.6H474.7" stroke="#5c5c5c" stroke-width="1.15" fill="none"/>
<path d="M462.7 4.4L464.5 2.2L466.3 4.4zM473.3 11.8L475.7 13.6L473.3 15.4z" fill="#5c5c5c"/>
<path d="M470.5 2.1V11.8" stroke="#1a6aa8" stroke-width="1.3"/><path d="M471.4 7.5H476M473.8 5.5L471.4 7.5L473.8 9.5" stroke="#d04000" stroke-width="1.2" fill="none"/>
<rect x="484.7" y="0" width="1.2" height="17.6" fill="#8e8e8e"/>
<path d="M495.8 0.4h8l3.2 3.2v9.6h-11.2z" fill="#fdfdfd" stroke="#8a8a8a" stroke-width="1"/>
<path d="M503.8 0.4v3.2h3.2" fill="none" stroke="#8a8a8a" stroke-width="0.8"/>
<path d="M497.7 2.8h3M497.7 6.8h6.5M497.7 8.6h6.5M497.7 10.4h3" stroke="#9a9a9a" stroke-width="1" fill="none"/>
<path d="M499.4 10.4h3.6v-4.2h4.4v4.2h3.6v3.9h-3.6v3.5h-4.4v-3.5h-3.6z" fill="#18cc2a" stroke="#0a8a14" stroke-width="0.9"/>
<path d="M500.4 11.6h9.6M504.5 7.4v5" stroke="#7dff8a" stroke-width="1.1" fill="none" opacity="0.85"/>
<path d="M516.7 7h5.8l-2.9 3.4z" fill="#000"/>
<rect x="539.4" y="0" width="3.4" height="1.6" fill="#1c6ac8"/><circle cx="541.1" cy="8" r="6.6" fill="#eceef0" stroke="#1c78d8" stroke-width="2.8"/><path d="M540.5 4.6V8.1H543.4" stroke="#222" stroke-width="1.1" fill="none"/>
<path d="M555.7 7h5.8l-2.9 3.4z" fill="#000"/>
<rect x="572.4" y="1.6" width="15.2" height="12.8" fill="#fff" stroke="#3a7ad2" stroke-width="1"/><rect x="572" y="1.2" width="16" height="2.6" fill="#4a8ae0"/><path d="M572.4 8.9h15.2" stroke="#3a7ad2" stroke-width="0.9"/>
<path d="M574.2 7.2l2-.2l1.8-1.6l1.8 1.2l2-.2l2.2-1.4h1.6" stroke="#a81404" stroke-width="1.1" fill="none"/><path d="M575 12.4l2-1l1.8.6l1.6-.4l2-1.8l2.4 2.4" stroke="#129412" stroke-width="1.1" fill="none"/>
<path d="M594.6 7h5.8l-2.9 3.4z" fill="#000"/>
<rect x="605.9" y="0" width="1.2" height="19.4" fill="#8e8e8e"/>
<rect x="610.1" y="0.1" width="2.8" height="1" fill="#a6a6a6"/>
<rect x="610.1" y="2.1" width="2.8" height="1" fill="#a6a6a6"/>
<rect x="610.1" y="4.1" width="2.8" height="1" fill="#a6a6a6"/>
<rect x="610.1" y="6.1" width="2.8" height="1" fill="#a6a6a6"/>
<rect x="610.1" y="8.1" width="2.8" height="1" fill="#a6a6a6"/>
<rect x="610.1" y="10.1" width="2.8" height="1" fill="#a6a6a6"/>
<rect x="610.1" y="12.1" width="2.8" height="1" fill="#a6a6a6"/>
<rect x="610.1" y="14.1" width="2.8" height="1" fill="#a6a6a6"/>
<rect x="610.1" y="16.1" width="2.8" height="1" fill="#a6a6a6"/>
<rect x="615.9" y="0" width="1.2" height="17.6" fill="#8e8e8e"/>
<rect x="617.2" y="0" width="23.8" height="17.7" fill="#f8f8f8"/><rect x="616.2" y="17.7" width="25.8" height="1.6" fill="#fdfdfd"/>
<path d="M624 0.9V11.8L626.3 9.8L629 15.1L630.8 14.2L628.4 9.2L632 8.9z" fill="#4a4a4a"/>
<path d="M648.8 8.5H655M658 8.5H663.9M656.5 0.9V7M656.5 10V16" stroke="#444" stroke-width="1.3" fill="none"/>
<rect x="672.8" y="0" width="1.2" height="17.6" fill="#8e8e8e"/>
<path d="M690.5 2.1V14.8M713 8.5H725.2" stroke="#444" stroke-width="1.3" fill="none"/>
<path d="M740.9 14.8L753 2.7" stroke="#555" stroke-width="1.1" fill="none"/>
<path d="M766.9 9.5L774.9 2.1M771.9 14.8L781.1 6.2" stroke="#555" stroke-width="1" fill="none"/><path d="M769.4 7.6l1.6 6M771.8 5.2l2 6.4M774.2 3l2.2 6.6M776.8 1.2l2 6.4M779.4 0l1.4 5.6" stroke="#444" stroke-width="1" fill="none"/>
<path d="M796 1.5H809" stroke="#555" stroke-width="1" stroke-dasharray="1 1" fill="none"/>
<path d="M796 4.5H809" stroke="#555" stroke-width="1" stroke-dasharray="1 1" fill="none"/>
<path d="M796 8.5H809" stroke="#555" stroke-width="1" stroke-dasharray="1 1" fill="none"/>
<path d="M796 12.5H805" stroke="#555" stroke-width="1" stroke-dasharray="1 1" fill="none"/>
<path d="M853 2.5H865M853 14.5H865M853.5 2V15M864.5 2V15" fill="none" stroke="#555" stroke-width="1" stroke-dasharray="1 1"/><rect x="852" y="1.2" width="2.2" height="1.2" fill="#555"/>
<path d="M880 5.6L883.5 2L887 5.6L883.5 6.8zM887 10.8L890.5 9.8L894 10.8L890.5 14.6z" fill="#444"/><path d="M881.8 9L884.3 11.5L888.6 6.4" stroke="#444" stroke-width="1.3" fill="none"/>
<path d="M900.6 7h5.8l-2.9 3.4z" fill="#000"/>
<rect x="911.9" y="0" width="1.2" height="19.4" fill="#8e8e8e"/>
<rect x="916" y="0.1" width="2.8" height="1" fill="#a6a6a6"/>
<rect x="916" y="2.1" width="2.8" height="1" fill="#a6a6a6"/>
<rect x="916" y="4.1" width="2.8" height="1" fill="#a6a6a6"/>
<rect x="916" y="6.1" width="2.8" height="1" fill="#a6a6a6"/>
<rect x="916" y="8.1" width="2.8" height="1" fill="#a6a6a6"/>
<rect x="916" y="10.1" width="2.8" height="1" fill="#a6a6a6"/>
<rect x="916" y="12.1" width="2.8" height="1" fill="#a6a6a6"/>
<rect x="916" y="14.1" width="2.8" height="1" fill="#a6a6a6"/>
<rect x="916" y="16.1" width="2.8" height="1" fill="#a6a6a6"/>
<rect x="1062.6" y="0" width="24.8" height="17.7" fill="#f8f8f8"/><rect x="1061.6" y="17.7" width="26.8" height="1.6" fill="#fdfdfd"/>
<rect x="1061.6" y="0" width="1.2" height="17.6" fill="#8e8e8e"/>
<rect x="1172.9" y="0" width="1.2" height="19.4" fill="#8e8e8e"/>
<circle cx="1643.8" cy="5.4" r="3.7" fill="#f4f6fb" stroke="#2a5bd0" stroke-width="1.2"/><path d="M1640.8 8.4L1635.9 12.9" stroke="#2a5bd0" stroke-width="2.1"/>
<path d="M1660 10a5.6 4.6 0 1 1 6 4.6l-2.6 1.9l.4-2.1a5.6 4.6 0 0 1 -3.8 -4.4z" fill="#e9ebf2" stroke="#a4a6ae" stroke-width="0.9"/>
<linearGradient id="gr" x1="0" y1="0" x2="0" y2="1"><stop offset="0" stop-color="#e8603c"/><stop offset="1" stop-color="#e0200c"/></linearGradient><circle cx="1674.5" cy="5.6" r="8.4" fill="url(#gr)"/>
</svg>
<span class="t ax" style="left:1647.6px;top:35.86px;font-size:9.5px;line-height:9.5px;transform-origin:0 8.04px;">1.05730</span>
<span class="t ax" style="left:1647.6px;top:68.86px;font-size:9.5px;line-height:9.5px;transform-origin:0 8.04px;">1.05505</span>
<span class="t ax" style="left:1647.6px;top:101.86px;font-size:9.5px;line-height:9.5px;transform-origin:0 8.04px;">1.05280</span>
<span class="t ax" style="left:1647.6px;top:134.86px;font-size:9.5px;line-height:9.5px;transform-origin:0 8.04px;">1.05060</span>
<span class="t ax" style="left:1647.6px;top:200.86px;font-size:9.5px;line-height:9.5px;transform-origin:0 8.04px;">1.04615</span>
<span class="t ax" style="left:1647.6px;top:233.86px;font-size:9.5px;line-height:9.5px;transform-origin:0 8.04px;">1.04390</span>
<span class="t ax" style="left:1647.6px;top:266.86px;font-size:9.5px;line-height:9.5px;transform-origin:0 8.04px;">1.04165</span>
<span class="t ax" style="left:1647.6px;top:299.86px;font-size:9.5px;line-height:9.5px;transform-origin:0 8.04px;">1.03945</span>
<span class="t ax" style="left:1647.6px;top:332.86px;font-size:9.5px;line-height:9.5px;transform-origin:0 8.04px;">1.03720</span>
<span class="t ax" style="left:1647.6px;top:365.86px;font-size:9.5px;line-height:9.5px;transform-origin:0 8.04px;">1.03495</span>
<span class="t ax" style="left:1647.6px;top:398.86px;font-size:9.5px;line-height:9.5px;transform-origin:0 8.04px;">1.03275</span>
<span class="t ax" style="left:1647.6px;top:431.86px;font-size:9.5px;line-height:9.5px;transform-origin:0 8.04px;">1.03050</span>
<span class="t ax" style="left:1647.6px;top:464.86px;font-size:9.5px;line-height:9.5px;transform-origin:0 8.04px;">1.02830</span>
<span class="t ax" style="left:1647.6px;top:497.86px;font-size:9.5px;line-height:9.5px;transform-origin:0 8.04px;">1.02605</span>
<span class="t ax" style="left:1647.6px;top:530.86px;font-size:9.5px;line-height:9.5px;transform-origin:0 8.04px;">1.02380</span>
<span class="t ax" style="left:1647.6px;top:563.86px;font-size:9.5px;line-height:9.5px;transform-origin:0 8.04px;">1.02160</span>
<span class="t ax" style="left:1647.6px;top:596.86px;font-size:9.5px;line-height:9.5px;transform-origin:0 8.04px;">1.01935</span>
<span class="t ax" style="left:1645.2px;top:608.86px;font-size:9.5px;line-height:9.5px;transform-origin:0 8.04px;">0.00972</span>
<span class="t ax" style="left:1645.4px;top:691.86px;font-size:9.5px;line-height:9.5px;transform-origin:0 8.04px;">0.00</span>
<span class="t ax" style="left:1645px;top:708.86px;font-size:9.5px;line-height:9.5px;transform-origin:0 8.04px;">-0.00262</span>
<span class="t ax" style="left:1645.5px;top:724.86px;font-size:9.5px;line-height:9.5px;transform-origin:0 8.04px;">100</span>
<span class="t ax" style="left:1644.2px;top:741.86px;font-size:9.5px;line-height:9.5px;transform-origin:0 8.04px;">80</span>
<span class="t ax" style="left:1644.2px;top:774.86px;font-size:9.5px;line-height:9.5px;transform-origin:0 8.04px;">50</span>
<span class="t ax" style="left:1644.2px;top:813.86px;font-size:9.5px;line-height:9.5px;transform-origin:0 8.04px;">15</span>
<span class="t ax" style="left:1644.6px;top:823.86px;font-size:9.5px;line-height:9.5px;transform-origin:0 8.04px;">0</span>
<div class="tag" style="top:23px;background:#ff0000"></div>
<span class="t ax" style="left:1647.6px;top:24.86px;font-size:9.5px;line-height:9.5px;transform-origin:0 8.04px;color:#fff;">1.05799</span>
<div class="tag" style="top:55px;background:#ff0000"></div>
<span class="t ax" style="left:1647.6px;top:56.86px;font-size:9.5px;line-height:9.5px;transform-origin:0 8.04px;color:#fff;">1.05580</span>
<div class="tag" style="top:90px;background:#000"></div>
<span class="t ax" style="left:1647.6px;top:91.86px;font-size:9.5px;line-height:9.5px;transform-origin:0 8.04px;color:#fff;">1.05350</span>
<div class="tag" style="top:106px;background:#ffa500"></div>
<span class="t ax" style="left:1647.6px;top:107.86px;font-size:9.5px;line-height:9.5px;transform-origin:0 8.04px;color:#fff;">1.05237</span>
<div class="tag" style="top:137px;background:#0000ff"></div>
<span class="t ax" style="left:1647.6px;top:138.86px;font-size:9.5px;line-height:9.5px;transform-origin:0 8.04px;color:#fff;">1.05026</span>
<div class="tag" style="top:164px;background:#0000ff"></div>
<span class="t ax" style="left:1647.6px;top:165.86px;font-size:9.5px;line-height:9.5px;transform-origin:0 8.04px;color:#fff;">1.04845</span>
<span class="t lb" style="left:20.4px;top:28.86px;font-size:9.5px;line-height:9.5px;transform-origin:0 8.04px;">EURUSD-,H4&nbsp; 1.04724 1.05358 1.04653 1.05350</span>
<div style="position:absolute;left:10px;top:28px;width:230px;height:2px;background:#f00"></div>
<span class="t lb" style="left:9px;top:610.61px;font-size:9.5px;line-height:9.5px;transform-origin:0 8.04px;">MACD(12,26,9) 0.004160 0.003222</span>
<span class="t lb" style="left:9px;top:726.86px;font-size:9.5px;line-height:9.5px;transform-origin:0 8.04px;">RSI(14) 62.6035</span>
<span class="t tm" style="left:3.8px;top:839.76px;font-size:9.5px;line-height:9.5px;transform-origin:0 8.04px;">14 Nov 2022</span>
<span class="t tm" style="left:67.8px;top:839.76px;font-size:9.5px;line-height:9.5px;transform-origin:0 8.04px;">15 Nov 00:00</span>
<span class="t tm" style="left:131.8px;top:839.76px;font-size:9.5px;line-height:9.5px;transform-origin:0 8.04px;">15 Nov 16:00</span>
<span class="t tm" style="left:195.8px;top:839.76px;font-size:9.5px;line-height:9.5px;transform-origin:0 8.04px;">16 Nov 08:00</span>
<span class="t tm" style="left:259.8px;top:839.76px;font-size:9.5px;line-height:9.5px;transform-origin:0 8.04px;">17 Nov 00:00</span>
<span class="t tm" style="left:323.8px;top:839.76px;font-size:9.5px;line-height:9.5px;transform-origin:0 8.04px;">17 Nov 16:00</span>
<span class="t tm" style="left:387.8px;top:839.76px;font-size:9.5px;line-height:9.5px;transform-origin:0 8.04px;">18 Nov 08:00</span>
<span class="t tm" style="left:451.8px;top:839.76px;font-size:9.5px;line-height:9.5px;transform-origin:0 8.04px;">20 Nov 22:00</span>
<span class="t tm" style="left:515.8px;top:839.76px;font-size:9.5px;line-height:9.5px;transform-origin:0 8.04px;">21 Nov 08:00</span>
<span class="t tm" style="left:579.8px;top:839.76px;font-size:9.5px;line-height:9.5px;transform-origin:0 8.04px;">22 Nov 00:00</span>
<span class="t tm" style="left:643.8px;top:839.76px;font-size:9.5px;line-height:9.5px;transform-origin:0 8.04px;">22 Nov 16:00</span>
<span class="t tm" style="left:707.8px;top:839.76px;font-size:9.5px;line-height:9.5px;transform-origin:0 8.04px;">23 Nov 08:00</span>
<span class="t tm" style="left:771.8px;top:839.76px;font-size:9.5px;line-height:9.5px;transform-origin:0 8.04px;">24 Nov 00:00</span>
<span class="t tm" style="left:835.8px;top:839.76px;font-size:9.5px;line-height:9.5px;transform-origin:0 8.04px;">24 Nov 16:00</span>
<span class="t tm" style="left:899.8px;top:839.76px;font-size:9.5px;line-height:9.5px;transform-origin:0 8.04px;">25 Nov 08:00</span>
<span class="t tm" style="left:963.8px;top:839.76px;font-size:9.5px;line-height:9.5px;transform-origin:0 8.04px;">28 Nov 00:00</span>
<span class="t tm" style="left:1027.8px;top:839.76px;font-size:9.5px;line-height:9.5px;transform-origin:0 8.04px;">28 Nov 16:00</span>
<span class="t tm" style="left:1091.8px;top:839.76px;font-size:9.5px;line-height:9.5px;transform-origin:0 8.04px;">29 Nov 08:00</span>
<span class="t tm" style="left:1155.8px;top:839.76px;font-size:9.5px;line-height:9.5px;transform-origin:0 8.04px;">30 Nov 00:00</span>
<span class="t tm" style="left:1219.8px;top:839.76px;font-size:9.5px;line-height:9.5px;transform-origin:0 8.04px;">30 Nov 16:00</span>
<span class="t tm" style="left:1283.8px;top:839.76px;font-size:9.5px;line-height:9.5px;transform-origin:0 8.04px;">1 Dec 08:00</span>
<span class="t tm" style="left:1347.8px;top:839.76px;font-size:9.5px;line-height:9.5px;transform-origin:0 8.04px;">2 Dec 00:00</span>
<span class="t tm" style="left:1411.8px;top:839.76px;font-size:9.5px;line-height:9.5px;transform-origin:0 8.04px;">2 Dec 16:00</span>
<span class="t tt" style="left:919px;top:4.54px;width:30px;text-align:center;font-size:10px;line-height:10px;color:#444;">M1</span>
<span class="t tt" style="left:947.1px;top:4.54px;width:30px;text-align:center;font-size:10px;line-height:10px;color:#444;">M5</span>
<span class="t tt" style="left:975.3px;top:4.54px;width:30px;text-align:center;font-size:10px;line-height:10px;color:#444;">M15</span>
<span class="t tt" style="left:1003.5px;top:4.54px;width:30px;text-align:center;font-size:10px;line-height:10px;color:#444;">M30</span>
<span class="t tt" style="left:1031.4px;top:4.54px;width:30px;text-align:center;font-size:10px;line-height:10px;color:#444;">H1</span>
<span class="t tt" style="left:1058.9px;top:4.54px;width:30px;text-align:center;font-size:10px;line-height:10px;color:#444;">H4</span>
<span class="t tt" style="left:1087.4px;top:4.54px;width:30px;text-align:center;font-size:10px;line-height:10px;color:#444;">D1</span>
<span class="t tt" style="left:1115.9px;top:4.54px;width:30px;text-align:center;font-size:10px;line-height:10px;color:#444;">W1</span>
<span class="t tt" style="left:1143px;top:4.54px;width:30px;text-align:center;font-size:10px;line-height:10px;color:#444;">MN</span>
<span class="t tt" style="left:815.8px;top:2.57px;width:30px;text-align:center;font-size:12.2px;line-height:12.2px;color:#555;">A</span>
<span class="t tt" style="left:844px;top:3.65px;width:30px;text-align:center;font-size:11.4px;line-height:11.4px;color:#555;font-weight:bold;">T</span>
<span class="t tt" style="left:775px;top:12.34px;width:10px;text-align:center;font-size:6.8px;line-height:6.8px;color:#333;font-weight:bold;">E</span>
<span class="t tt" style="left:802.9px;top:12.04px;width:10px;text-align:center;font-size:6.8px;line-height:6.8px;color:#333;font-weight:bold;">F</span>
<span class="t tt" style="left:1658.2px;top:-0.40px;width:30px;text-align:center;font-size:12.4px;line-height:12.4px;color:#fff;">1</span>
</body></html>
